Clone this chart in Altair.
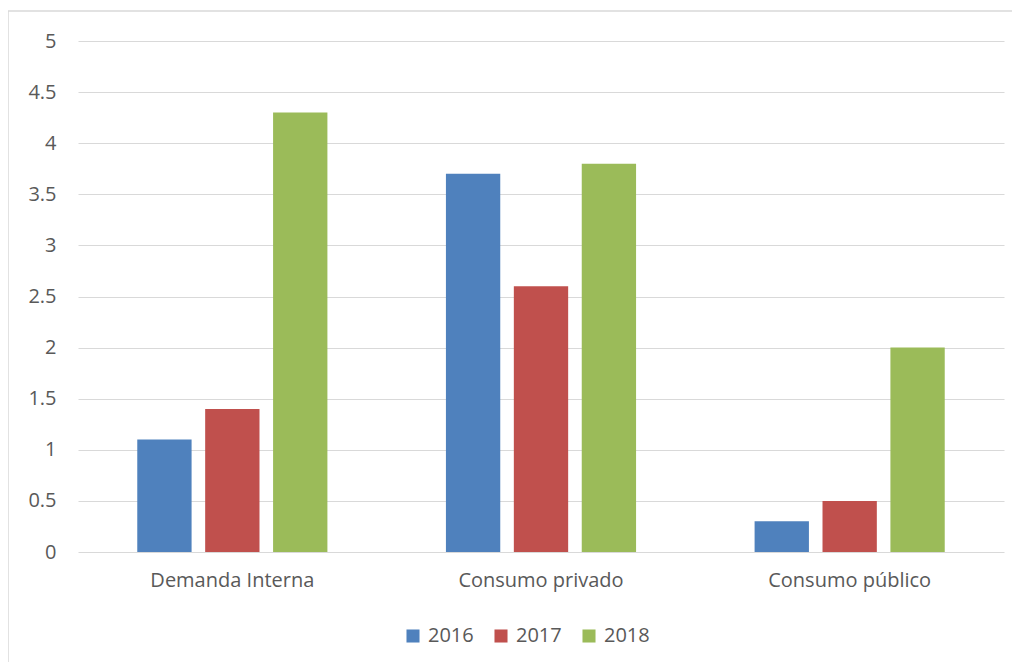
import altair as alt
import pandas as pd

categories = ["Demanda Interna", "Consumo privado", "Consumo público"]
years = ["2016", "2017", "2018"]
v2016 = [1.1, 3.7, 0.3]
v2017 = [1.4, 2.6, 0.5]
v2018 = [4.3, 3.8, 2.0]
colors = ["#4F81BD", "#C0504D", "#9BBB59"]
yticks = [0, 0.5, 1, 1.5, 2, 2.5, 3, 3.5, 4, 4.5, 5]

rows = []
for yr, vals in zip(years, [v2016, v2017, v2018]):
    for c, v in zip(categories, vals):
        rows.append({"cat": c, "year": yr, "value": v})
df = pd.DataFrame(rows)

FONT = "Open Sans"
TXT = "#595959"

bars = alt.Chart(df).mark_bar().encode(
    x=alt.X("cat:N", sort=categories, title=None,
            scale=alt.Scale(paddingInner=0.384, paddingOuter=0.192),
            axis=alt.Axis(labelAngle=0, domain=False, ticks=False, labelPadding=18,
                          labelFontSize=20, labelColor=TXT, labelFont=FONT, grid=False)),
    xOffset=alt.XOffset("year:N", sort=years, scale=alt.Scale(paddingInner=0.2, paddingOuter=0)),
    y=alt.Y("value:Q", title=None,
            scale=alt.Scale(domain=[0, 5], nice=False),
            axis=alt.Axis(values=yticks, domain=False, ticks=False, labelPadding=22,
                          labelFontSize=20, labelColor=TXT, labelFont=FONT, format="~g",
                          gridColor="#D9D9D9", gridWidth=1.2)),
    color=alt.Color("year:N", sort=years, title=None,
                    scale=alt.Scale(domain=years, range=colors),
                    legend=alt.Legend(orient="none", legendX=325, legendY=585,
                                      direction="horizontal", symbolType="square",
                                      symbolSize=170, symbolStrokeWidth=0,
                                      labelFontSize=20, labelColor=TXT, labelFont=FONT,
                                      columnPadding=17, labelOffset=5)),
)

frame = alt.Chart(pd.DataFrame({"a": [0]})).mark_rect(
    fill=None, stroke="#D9D9D9", strokeWidth=1.5
).encode(x=alt.value(-70), x2=alt.value(1000), y=alt.value(-30), y2=alt.value(700))

chart = alt.layer(frame, bars).properties(
    width=926, height=511,
    autosize=alt.AutoSizeParams(type="none"),
    padding={"left": 70, "top": 33, "right": 8, "bottom": 110},
).configure(font=FONT).configure_view(strokeWidth=0, stroke="transparent")

chart.save("out.html", embed_options={"renderer": "svg", "actions": False})
